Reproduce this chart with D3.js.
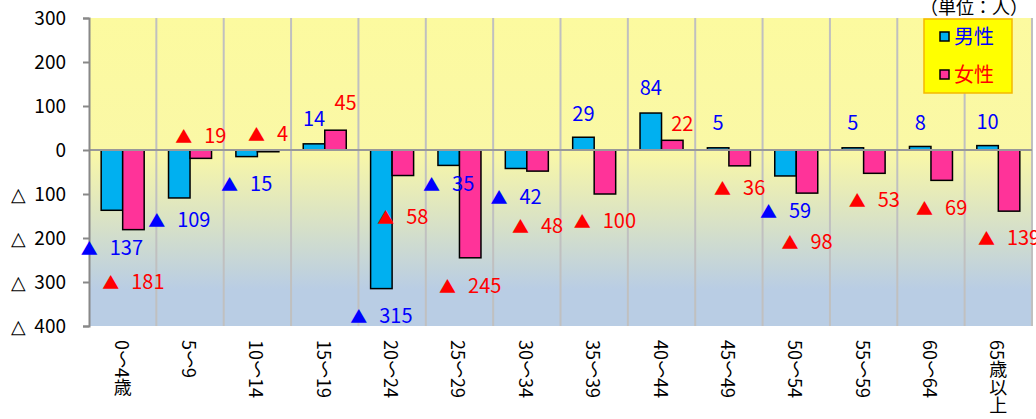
<!DOCTYPE html>
<html>
<head>
<meta charset="utf-8">
<script src="https://cdn.jsdelivr.net/npm/d3@7"></script>
<style>
  body { margin: 0; background: #fff; }
  svg { display: block; font-family: "Noto Sans CJK JP", sans-serif; }
</style>
</head>
<body>
<div id="chart"></div>
<script>
const categories = ["0～4歳", "5～9", "10～14", "15～19", "20～24", "25～29", "30～34",
  "35～39", "40～44", "45～49", "50～54", "55～59", "60～64", "65歳以上"];
const male = [-137, -109, -15, 14, -315, -35, -42, 29, 84, 5, -59, 5, 8, 10];
const female = [-181, -19, -4, 45, -58, -245, -48, -100, 22, -36, -98, -53, -69, -139];
// where each data label sits, in chart units
const maleLabelAt = [-223, -159, -77, 70, -377, -77, -107, 82, 141, 61, -139, 61, 61, 64];
const femaleLabelAt = [-300, 32, 36, 107, -152, -309, -173, -161, 59, -86, -209, -114, -132, -200];
const yTicks = [300, 200, 100, 0, -100, -200, -300, -400];
const seriesNames = ["男性", "女性"];

const width = 1036, height = 419;
const margin = { top: 18, right: 4, bottom: 93, left: 89 };

const svg = d3.select("#chart").append("svg")
  .attr("width", width)
  .attr("height", height);

const x = d3.scaleBand()
  .domain(categories)
  .range([margin.left, width - margin.right])
  .padding(0);

const xs = d3.scaleBand()
  .domain(["male", "female"])
  .range([0, x.bandwidth()])
  .paddingInner(0)
  .paddingOuter(0.566);

const y = d3.scaleLinear()
  .domain([-400, 300])
  .range([height - margin.bottom, margin.top]);

// background gradient
const defs = svg.append("defs");
const grad = defs.append("linearGradient")
  .attr("id", "bg")
  .attr("x1", 0).attr("y1", 0).attr("x2", 0).attr("y2", 1);
grad.append("stop").attr("offset", 0).attr("stop-color", "#fcfa9f");
grad.append("stop").attr("offset", 0.43).attr("stop-color", "#faf8a6");
grad.append("stop").attr("offset", 0.88).attr("stop-color", "#b9cde4");
grad.append("stop").attr("offset", 1).attr("stop-color", "#b9cde4");

svg.append("rect")
  .attr("x", margin.left)
  .attr("y", margin.top)
  .attr("width", width - margin.right - margin.left)
  .attr("height", y(-400) - y(300))
  .attr("fill", "url(#bg)");

// vertical grid lines at category boundaries
svg.append("g")
  .selectAll("line")
  .data(categories)
  .join("line")
  .attr("x1", (d) => x(d) + x.bandwidth())
  .attr("x2", (d) => x(d) + x.bandwidth())
  .attr("y1", margin.top)
  .attr("y2", y(-400))
  .attr("stroke", "#c0c0c0")
  .attr("stroke-width", 2);

// bars
const rows = categories.map((c, i) => ({ c, male: male[i], female: female[i] }));
const colors = { male: "#00b0f0", female: "#ff3399" };

["male", "female"].forEach((key) => {
  svg.append("g")
    .selectAll("rect")
    .data(rows)
    .join("rect")
    .attr("x", (d) => x(d.c) + xs(key))
    .attr("width", xs.bandwidth())
    .attr("y", (d) => y(Math.max(0, d[key])))
    .attr("height", (d) => Math.abs(y(d[key]) - y(0)))
    .attr("fill", colors[key])
    .attr("stroke", "#000")
    .attr("stroke-width", 1.5);
});

// zero line
svg.append("line")
  .attr("x1", margin.left)
  .attr("x2", width - margin.right)
  .attr("y1", y(0))
  .attr("y2", y(0))
  .attr("stroke", "#999")
  .attr("stroke-width", 2);

// y axis
const yAxis = svg.append("g")
  .attr("transform", `translate(${margin.left},0)`)
  .call(d3.axisLeft(y).tickValues(yTicks).tickSize(6).tickPadding(17)
    .tickFormat((d) => Math.abs(d)));
yAxis.select(".domain").attr("stroke", "#888").attr("stroke-width", 2);
yAxis.selectAll(".tick line").attr("stroke", "#888").attr("stroke-width", 2);
yAxis.selectAll(".tick text")
  .attr("font-size", 19)
  .attr("fill", "#000")
  .attr("font-family", "'Noto Sans CJK JP', sans-serif");
yAxis.selectAll(".tick")
  .filter((d) => d < 0)
  .append("text")
  .attr("x", 18 - margin.left)
  .attr("dy", "0.32em")
  .attr("text-anchor", "middle")
  .attr("font-size", 19)
  .attr("fill", "#000")
  .text("△");

// x labels, vertical
svg.append("g")
  .selectAll("text")
  .data(categories)
  .join("text")
  .attr("x", (d) => x(d) + x.bandwidth() / 2)
  .attr("y", 340)
  .style("writing-mode", "vertical-rl")
  .style("text-orientation", "mixed")
  .attr("font-size", 18)
  .attr("fill", "#000")
  .text((d) => d);

// data labels
function drawLabels(values, at, key, color, shift) {
  const g = svg.append("g");
  values.forEach((v, i) => {
    const t = g.append("text")
      .attr("x", x(categories[i]) + xs(key) + xs.bandwidth() / 2 + (v > 0 ? shift : 0))
      .attr("y", y(at[i]))
      .attr("dy", "0.35em")
      .attr("text-anchor", "middle")
      .attr("font-size", 20)
      .attr("fill", color);
    if (v < 0) {
      t.append("tspan").attr("font-size", 17).text("▲");
      t.append("tspan").attr("dx", 12).text(Math.abs(v));
    } else {
      t.text(v);
    }
  });
}
drawLabels(male, maleLabelAt, "male", "#0000ff", 0);
drawLabels(female, femaleLabelAt, "female", "#ff0000", 10);

// legend
const lg = svg.append("g");
lg.append("rect")
  .attr("x", 924).attr("y", 19)
  .attr("width", 88).attr("height", 74)
  .attr("fill", "#ffff00")
  .attr("stroke", "#f5b800")
  .attr("stroke-width", 1.5);
seriesNames.forEach((name, i) => {
  const key = i === 0 ? "male" : "female";
  const cy = 37 + i * 38;
  lg.append("rect")
    .attr("x", 940).attr("y", cy - 5)
    .attr("width", 9).attr("height", 9)
    .attr("fill", colors[key])
    .attr("stroke", "#000")
    .attr("stroke-width", 1.5);
  lg.append("text")
    .attr("x", 954).attr("y", cy)
    .attr("dy", "0.36em")
    .attr("font-size", 20)
    .attr("fill", i === 0 ? "#0000ff" : "#ff0000")
    .text(name);
});

// unit note
svg.append("text")
  .attr("x", 1028).attr("y", 14)
  .attr("text-anchor", "end")
  .attr("font-size", 18)
  .attr("fill", "#000")
  .text("（単位：人）");
</script>
</body>
</html>
